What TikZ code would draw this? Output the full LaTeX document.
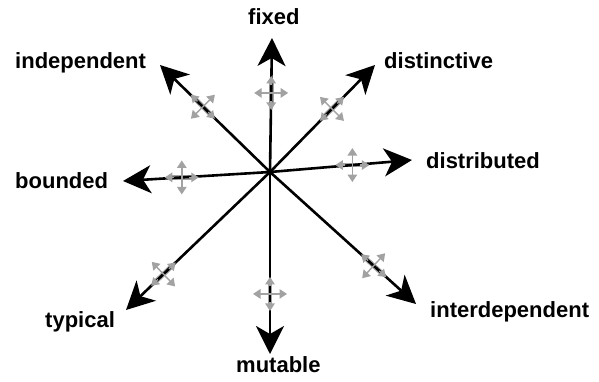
\documentclass[tikz,border=0pt]{standalone}
\usepackage{fontspec}
\setmainfont{Liberation Sans}
\usetikzlibrary{arrows.meta,calc}
\pgfdeclarelayer{bg}
\pgfdeclarelayer{fg}
\pgfsetlayers{bg,main,fg}
\definecolor{crossgray}{HTML}{A2A2A2}
\tikzset{
  axisarrow/.style={line width=2.6pt, -{Stealth[length=28pt,width=28pt,inset=8pt]}},
  lbl/.style={font=\fontsize{22}{26}\selectfont\bfseries, inner sep=0pt, anchor=base west},
  grayshaft/.style={draw=crossgray, line width=4.8pt},
  grayarm/.style={draw=crossgray, line width=1.4pt, -{Triangle[length=7.5pt,width=9.5pt]}},
}
% #1 tip coordinate, #2 fraction along the axis, #3/#4 along-arm vector
\newcommand\gcross[4]{%
  \coordinate (p#1) at ($(c)!#2!(#1)$);
  \begin{pgfonlayer}{bg}
    \draw[grayshaft] ($(p#1)+({-(#3)*0.7},{-(#4)*0.7})$) -- ($(p#1)+({(#3)*0.7},{(#4)*0.7})$);
  \end{pgfonlayer}
  \begin{pgfonlayer}{fg}
    \draw[grayarm] ($(p#1)+({(#3)*0.45},{(#4)*0.45})$) -- ($(p#1)+({(#3)},{(#4)})$);
    \draw[grayarm] ($(p#1)+({-(#3)*0.45},{-(#4)*0.45})$) -- ($(p#1)+({-(#3)},{-(#4)})$);
    \draw[grayarm] (p#1) -- ($(p#1)+({-(#4)},{(#3)})$);
    \draw[grayarm] (p#1) -- ($(p#1)+({(#4)},{-(#3)})$);
  \end{pgfonlayer}}
\begin{document}
\begin{tikzpicture}[x=1pt,y=-1pt]
\useasboundingbox (0,0) rectangle (599,381);
\coordinate (c) at (270,172);
\coordinate (tfixed) at (272,38);
\coordinate (tdistinctive) at (375,65);
\coordinate (tdistributed) at (412,160);
\coordinate (tinterdependent) at (416,304);
\coordinate (tmutable) at (270,354);
\coordinate (ttypical) at (126,310);
\coordinate (tbounded) at (123,181);
\coordinate (tindependent) at (160,65);

\foreach \t in {fixed,distinctive,distributed,interdependent,mutable,typical,bounded,independent}
  \draw[axisarrow] (c) -- (t\t);

\gcross{tfixed}{0.59}{0}{17}
\gcross{tmutable}{0.67}{0}{17}
\gcross{tdistributed}{0.58}{17}{0}
\gcross{tbounded}{0.60}{17}{0}
\gcross{tdistinctive}{0.59}{12}{-12}
\gcross{tindependent}{0.61}{12}{12}
\gcross{tinterdependent}{0.71}{12.5}{11.5}
\gcross{ttypical}{0.74}{12.3}{-11.7}

\node[lbl] (fixed) at (248,24) {fixed};
\node[lbl] (distinctive) at (384,68) {distinctive};
\node[lbl] (distributed) at (426,168) {distributed};
\node[lbl] (interdependent) at (430,317) {interdependent};
\node[lbl] (mutable) at (236,372) {mutable};
\node[lbl] (typical) at (45,327) {typical};
\node[lbl] (bounded) at (15,188) {bounded};
\node[lbl] (independent) at (15,68) {independent};
\end{tikzpicture}
\end{document}
